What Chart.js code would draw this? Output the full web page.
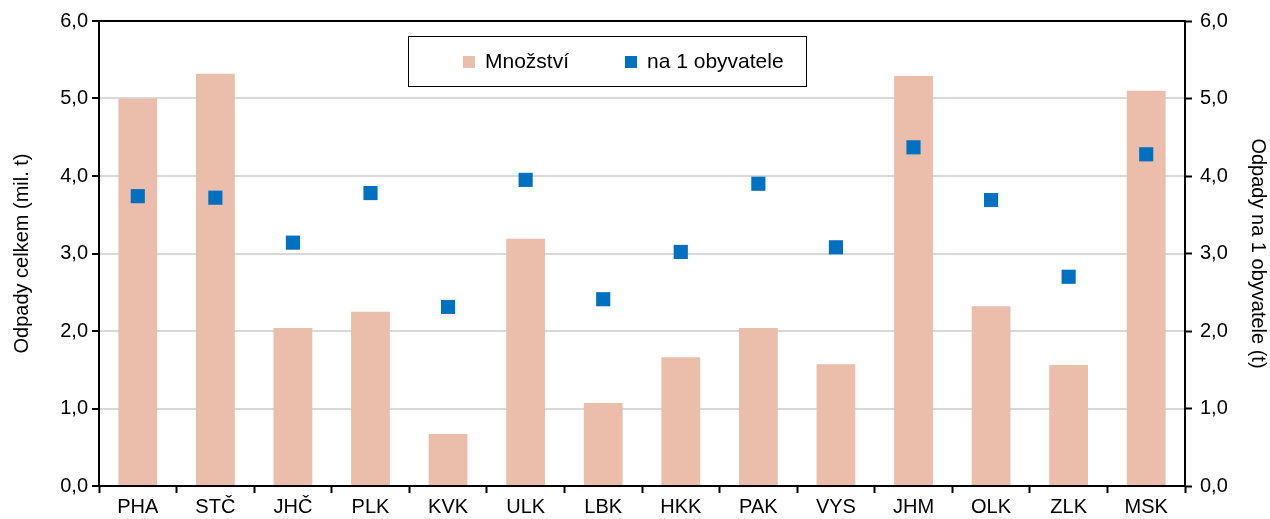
<!DOCTYPE html>
<html>
<head>
<meta charset="utf-8">
<script src="https://cdn.jsdelivr.net/npm/chart.js@4"></script>
<style>
	html, body { margin: 0; padding: 0; background: #fff; }
	#wrap { width: 1270px; height: 519px; }
</style>
</head>
<body>
<div id="wrap"><canvas id="odpadyChart"></canvas></div>
<script>
// ===== DATA =====
const kraje = ['PHA', 'STČ', 'JHČ', 'PLK', 'KVK', 'ULK', 'LBK', 'HKK', 'PAK', 'VYS', 'JHM', 'OLK', 'ZLK', 'MSK'];
const mnozstvi = [5.00, 5.32, 2.04, 2.25, 0.67, 3.19, 1.07, 1.66, 2.04, 1.57, 5.29, 2.32, 1.56, 5.10];
const naObyvatele = [3.74, 3.72, 3.14, 3.78, 2.31, 3.95, 2.41, 3.02, 3.90, 3.08, 4.37, 3.69, 2.70, 4.28];
const osaTicks = [0, 1, 2, 3, 4, 5, 6];

const FONT = 'Liberation Sans, Arial, sans-serif';
const formatTick = v => v.toFixed(1).replace('.', ',');

// border around plot + boxed legend inside
const framePlugin = {
	id: 'frame',
	afterDraw(chart) {
		const { ctx, chartArea: a } = chart;
		ctx.save();
		ctx.strokeStyle = '#000';
		ctx.lineWidth = 2;
		ctx.strokeRect(a.left, a.top, a.right - a.left, a.bottom - a.top);

		// legend box
		const bx = 408, by = 36, bw = 398, bh = 50;
		ctx.fillStyle = '#fff';
		ctx.fillRect(bx, by, bw, bh);
		ctx.lineWidth = 1;
		ctx.strokeStyle = '#000';
		ctx.strokeRect(bx + 0.5, by + 0.5, bw, bh);

		const items = chart.data.datasets.map(ds => ({ label: ds.label, color: ds.backgroundColor }));
		const xs = [463, 625];
		ctx.font = '21px ' + FONT;
		ctx.textBaseline = 'middle';
		items.forEach((it, i) => {
			ctx.fillStyle = it.color;
			ctx.fillRect(xs[i], 56, 12, 12);
			ctx.fillStyle = '#000';
			ctx.fillText(it.label, xs[i] + 22, 62);
		});
		ctx.restore();
	}
};

const ctx = document.getElementById('odpadyChart').getContext('2d');

new Chart(ctx, {
	type: 'bar',
	data: {
		labels: kraje,
		datasets: [
			{
				label: 'Množství',
				data: mnozstvi,
				backgroundColor: '#EBBDAB',
				barPercentage: 0.5,
				categoryPercentage: 1.0,
				yAxisID: 'y',
				order: 2
			},
			{
				type: 'line',
				label: 'na 1 obyvatele',
				data: naObyvatele,
				backgroundColor: '#0070C0',
				borderColor: '#0070C0',
				showLine: false,
				pointStyle: 'rect',
				pointRadius: 10,
				pointHoverRadius: 10,
				pointBorderWidth: 0,
				yAxisID: 'y1',
				order: 1
			}
		]
	},
	options: {
		responsive: true,
		maintainAspectRatio: false,
		animation: false,
		layout: { padding: { top: 21, left: 0, right: 0, bottom: 0 } },
		plugins: {
			legend: { display: false },
			tooltip: { enabled: false }
		},
		scales: {
			x: {
				offset: true,
				afterFit(s) { s.height = 33; },
				grid: {
					offset: true,
					drawOnChartArea: false,
					tickLength: 7,
					tickColor: '#000',
					tickWidth: 2
				},
				border: { color: '#000', width: 2 },
				ticks: {
					color: '#000',
					padding: 2,
					font: { family: FONT, size: 20 }
				}
			},
			y: {
				position: 'left',
				min: 0,
				max: 6,
				afterFit(s) { s.width = 99; },
				afterBuildTicks(s) { s.ticks = osaTicks.map(v => ({ value: v })); },
				grid: {
					color: '#D9D9D9',
					lineWidth: 2,
					tickLength: 7,
					tickColor: '#000',
					tickWidth: 2
				},
				border: { color: '#000', width: 2 },
				ticks: {
					color: '#000',
					padding: 4,
					font: { family: FONT, size: 20 },
					callback: formatTick
				},
				title: {
					display: true,
					text: 'Odpady celkem (mil. t)',
					color: '#000',
					padding: { top: 10, bottom: 0 },
					font: { family: FONT, size: 20 }
				}
			},
			y1: {
				position: 'right',
				min: 0,
				max: 6,
				afterFit(s) { s.width = 85; },
				afterBuildTicks(s) { s.ticks = osaTicks.map(v => ({ value: v })); },
				grid: {
					drawOnChartArea: false,
					tickLength: 7,
					tickColor: '#000',
					tickWidth: 2
				},
				border: { color: '#000', width: 2 },
				ticks: {
					color: '#000',
					padding: 8,
					font: { family: FONT, size: 20 },
					callback: formatTick
				},
				title: {
					display: true,
					text: 'Odpady na 1 obyvatele (t)',
					color: '#000',
					padding: { top: 0, bottom: 4 },
					font: { family: FONT, size: 20 }
				}
			}
		}
	},
	plugins: [framePlugin]
});
</script>
</body>
</html>
